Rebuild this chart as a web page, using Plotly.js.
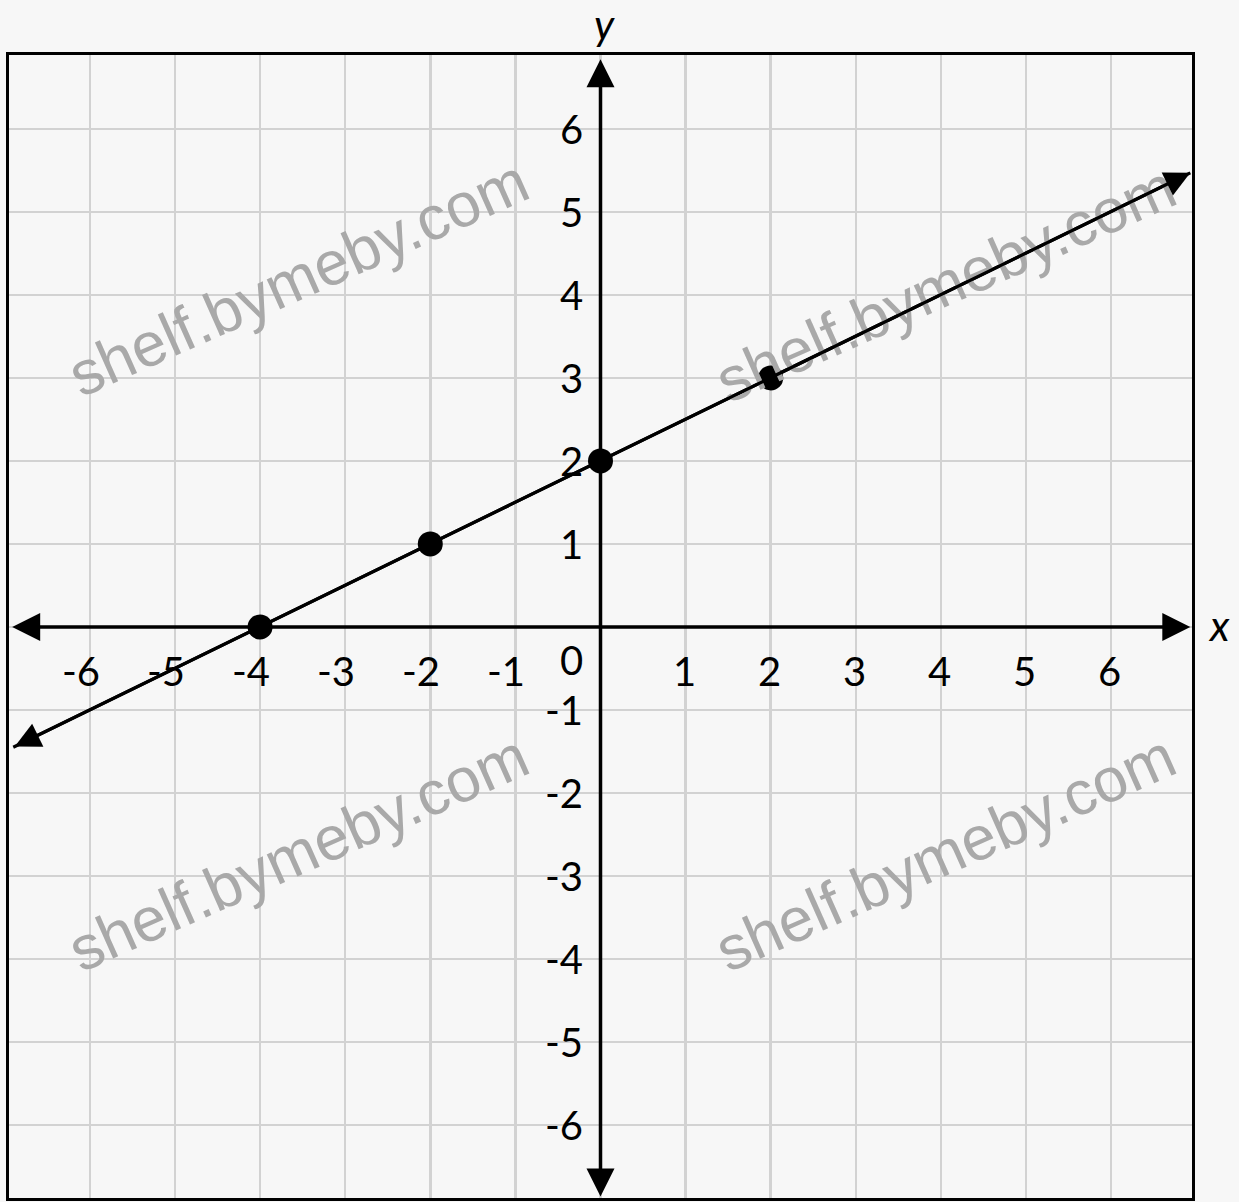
<!DOCTYPE html>
<html>
<head>
<meta charset="utf-8">
<script src="https://cdn.plot.ly/plotly-3.0.1.min.js"></script>
<style>
  html, body { margin: 0; padding: 0; background: #f7f7f7; }
  #chart { width: 1239px; height: 1202px; }
</style>
</head>
<body>
<div id="chart"></div>
<script>
// ---- data ----
const pointX = [-4, -2, 0, 2];
const pointY = [0, 1, 2, 3];
const lineX = [-6.9, 6.93];          // ends of the drawn line (arrow tips)
const lineY = [-1.45, 5.47];
const xTicks = [-6, -5, -4, -3, -2, -1, 1, 2, 3, 4, 5, 6];
const yTicks = [-6, -5, -4, -3, -2, -1, 1, 2, 3, 4, 5, 6];
const xRange = [-6.95, 6.95];
const yRange = [-6.88, 6.89];
const axisXEnds = [-6.93, 6.93];
const axisYEnds = [-6.88, 6.84];
const watermarkText = 'shelf.bymeby.com';
const watermarkPos = [[0.245, 0.805], [0.792, 0.800], [0.245, 0.302], [0.792, 0.302]];

const labelFont = { family: 'Lato, "Open Sans", sans-serif', size: 40, color: '#000' };

const annotations = [];

// watermarks
watermarkPos.forEach(p => annotations.push({
  xref: 'paper', yref: 'paper', x: p[0], y: p[1],
  text: watermarkText, showarrow: false, textangle: -24,
  font: { family: '"Liberation Sans", Arial, sans-serif', size: 62, color: '#a9a9a9' },
  xanchor: 'center', yanchor: 'middle'
}));

// x tick labels
xTicks.forEach(t => annotations.push({
  xref: 'x', yref: 'y', x: t, y: 0, text: String(t), showarrow: false,
  xanchor: 'right', yanchor: 'middle', xshift: 12, yshift: -44, font: labelFont
}));
// y tick labels
yTicks.forEach(t => annotations.push({
  xref: 'x', yref: 'y', x: 0, y: t, text: String(t), showarrow: false,
  xanchor: 'right', yanchor: 'middle', xshift: -16, yshift: 0, font: labelFont
}));
// origin label
annotations.push({
  xref: 'x', yref: 'y', x: 0, y: 0, text: '0', showarrow: false,
  xanchor: 'right', yanchor: 'middle', xshift: -16, yshift: -33, font: labelFont
});

// axis names
annotations.push({
  xref: 'paper', yref: 'y', x: 1, y: 0, text: '<i>x</i>', showarrow: false,
  xanchor: 'left', yanchor: 'middle', xshift: 14, yshift: 2,
  font: { family: 'Lato, sans-serif', size: 42, color: '#000' }
});
annotations.push({
  xref: 'x', yref: 'paper', x: 0, y: 1, text: '<i>y</i>', showarrow: false,
  xanchor: 'center', yanchor: 'bottom', xshift: 4, yshift: 4,
  font: { family: 'Lato, sans-serif', size: 42, color: '#000' }
});

// axes with arrowheads at both ends
const arrowCommon = {
  xref: 'x', yref: 'y', axref: 'x', ayref: 'y', text: '',
  showarrow: true, arrowside: 'end+start', arrowhead: 2, startarrowhead: 2,
  arrowsize: 1.6, startarrowsize: 1.6, arrowcolor: '#000',
  standoff: 0, startstandoff: 0
};
annotations.push(Object.assign({}, arrowCommon, {
  x: axisXEnds[1], y: 0, ax: axisXEnds[0], ay: 0, arrowwidth: 3.5
}));
annotations.push(Object.assign({}, arrowCommon, {
  x: 0, y: axisYEnds[1], ax: 0, ay: axisYEnds[0], arrowwidth: 3.5
}));
// line arrowheads
annotations.push(Object.assign({}, arrowCommon, {
  x: lineX[1], y: lineY[1], ax: lineX[0], ay: lineY[0], arrowwidth: 3.2
}));

const traces = [
  {
    x: lineX, y: lineY, mode: 'lines', type: 'scatter',
    line: { color: '#000', width: 3.2 }, hoverinfo: 'skip', showlegend: false
  },
  {
    x: pointX, y: pointY, mode: 'markers', type: 'scatter',
    marker: { color: '#000', size: 25 }, showlegend: false
  }
];

const axisCommon = {
  showgrid: true, gridcolor: '#d2d2d2', gridwidth: 2.5,
  zeroline: false, showticklabels: false, ticks: '',
  dtick: 1, tick0: 0,
  showline: true, mirror: true, linecolor: '#000', linewidth: 3,
  fixedrange: true
};

const layout = {
  width: 1239, height: 1202,
  margin: { l: 9, r: 47, t: 55, b: 4 },
  paper_bgcolor: '#f7f7f7', plot_bgcolor: '#f7f7f7',
  xaxis: Object.assign({}, axisCommon, { range: xRange }),
  yaxis: Object.assign({}, axisCommon, { range: yRange }),
  showlegend: false,
  annotations: annotations
};

Plotly.newPlot('chart', traces, layout, { displayModeBar: false, staticPlot: true }).then(gd => {
  // put the watermark texts underneath the plotted marks, as in the reference
  try {
    const plotGroup = gd.querySelector('.cartesianlayer .subplot.xy .plot');
    if (!plotGroup) return;
    const nodes = gd.querySelectorAll('.infolayer .annotation');
    nodes.forEach(n => {
      const idx = Number(n.getAttribute('data-index'));
      if (idx < watermarkPos.length) plotGroup.parentNode.insertBefore(n, plotGroup);
    });
  } catch (e) { /* keep default layering */ }
});
</script>
</body>
</html>
